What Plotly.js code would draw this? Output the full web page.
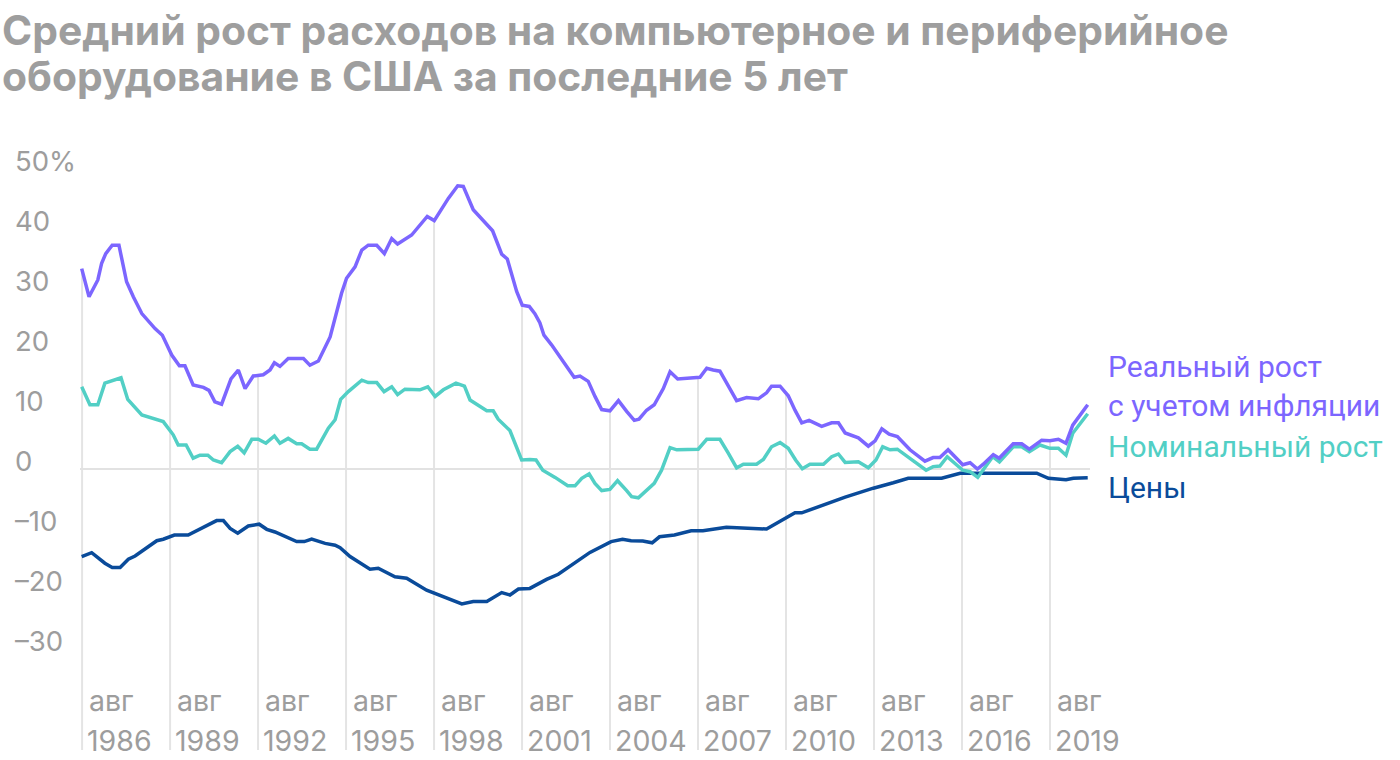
<!DOCTYPE html>
<html>
<head>
<meta charset="utf-8">
<script src="https://cdn.plot.ly/plotly-3.0.1.min.js"></script>
<style>html,body{margin:0;padding:0;background:#fff;}#chart{width:1400px;height:760px;}</style>
</head>
<body>
<div id="chart"></div>
<script>
// ---- Data (decimal years, % growth) ----
const realYears = [1986.57,1986.82,1987.12,1987.25,1987.39,1987.61,1987.84,1988.10,1988.33,1988.62,1989.07,1989.32,1989.64,1989.90,1990.09,1990.37,1990.72,1990.91,1991.11,1991.34,1991.66,1991.91,1992.14,1992.42,1992.76,1992.99,1993.14,1993.33,1993.61,1994.13,1994.35,1994.64,1995.04,1995.43,1995.60,1995.89,1996.12,1996.34,1996.63,1996.89,1997.14,1997.34,1997.82,1998.10,1998.35,1998.59,1999.07,1999.39,1999.58,1999.92,2000.26,2000.58,2000.89,2001.08,2001.40,2001.59,2001.83,2002.02,2002.19,2002.33,2002.59,2002.90,2003.36,2003.56,2003.84,2004.07,2004.30,2004.58,2004.87,2005.15,2005.41,2005.57,2005.83,2006.09,2006.40,2006.63,2006.89,2007.65,2007.88,2008.10,2008.33,2008.62,2008.90,2009.24,2009.64,2009.92,2010.09,2010.38,2010.66,2010.89,2011.12,2011.37,2011.80,2012.14,2012.37,2012.60,2013.05,2013.39,2013.62,2013.85,2014.10,2014.38,2014.81,2015.32,2015.60,2015.83,2016.11,2016.61,2016.86,2017.11,2017.31,2017.65,2017.85,2018.33,2018.62,2018.88,2019.30,2019.58,2019.87,2020.13,2020.36,2020.87];
const realVals = [33.4,28.7,31.5,34.3,35.9,37.3,37.3,31.2,28.7,25.9,23.4,22.3,19.0,17.2,17.2,14.0,13.6,13.1,11.2,10.8,15.0,16.5,13.4,15.5,15.7,16.5,17.7,17.1,18.4,18.4,17.3,18.0,22.0,29.3,31.8,33.7,36.5,37.3,37.3,35.9,38.4,37.5,39.0,40.7,42.1,41.4,45.1,47.2,47.1,43.2,41.5,39.7,35.8,35.0,29.6,27.3,27.1,25.9,24.4,22.3,20.7,18.6,15.3,15.5,14.6,12.1,9.9,9.7,11.4,9.6,8.1,8.3,9.8,10.7,13.4,16.2,15.0,15.3,16.8,16.5,16.3,13.8,11.4,11.9,11.7,12.7,13.8,13.8,12.2,9.8,7.7,8.1,7.1,7.7,7.7,6.0,5.2,3.8,4.7,6.7,5.8,5.4,3.2,1.3,1.9,1.9,3.2,0.7,1.05,0.0,0.8,2.4,1.8,4.2,4.2,3.3,4.8,4.7,4.95,4.3,7.3,10.7];

const nomYears = [1986.57,1986.85,1987.12,1987.36,1987.91,1988.14,1988.62,1989.35,1989.69,1989.86,1990.13,1990.37,1990.60,1990.87,1991.06,1991.34,1991.63,1991.89,1992.11,1992.37,1992.59,1992.85,1993.14,1993.33,1993.61,1993.90,1994.07,1994.35,1994.58,1994.98,1995.21,1995.40,1995.66,1996.12,1996.34,1996.63,1996.88,1997.14,1997.34,1997.59,1998.10,1998.37,1998.62,1998.90,1999.33,1999.62,1999.81,2000.38,2000.60,2000.77,2001.17,2001.57,2001.85,2002.06,2002.29,2002.71,2003.14,2003.39,2003.62,2003.87,2004.07,2004.30,2004.58,2004.84,2005.15,2005.32,2005.55,2005.83,2006.09,2006.34,2006.63,2006.86,2007.59,2007.88,2008.33,2008.62,2008.90,2009.13,2009.58,2009.81,2010.09,2010.38,2010.66,2010.91,2011.14,2011.40,2011.86,2012.14,2012.37,2012.60,2013.05,2013.39,2013.65,2013.88,2014.13,2014.38,2014.81,2015.36,2015.60,2015.83,2016.08,2016.61,2016.86,2017.12,2017.37,2017.63,2017.86,2018.33,2018.62,2018.88,2019.24,2019.58,2019.87,2020.13,2020.36,2020.87];
const nomVals = [13.7,10.7,10.7,14.3,15.2,11.6,9.0,7.9,5.7,4.0,4.0,1.8,2.3,2.3,1.5,1.05,2.9,3.8,2.7,4.95,4.95,4.3,5.5,4.3,5.1,4.2,4.2,3.3,3.3,6.8,8.2,11.6,12.9,14.8,14.4,14.4,12.9,13.7,12.4,13.3,13.2,13.7,12.1,13.2,14.3,13.8,11.5,9.7,9.7,8.3,6.4,1.5,1.6,1.5,-0.2,-1.4,-2.8,-2.8,-1.55,-0.8,-2.4,-3.6,-3.4,-1.95,-3.6,-4.6,-4.8,-3.5,-2.4,-0.2,3.55,3.2,3.3,4.95,4.95,2.6,0.2,0.8,0.8,1.6,3.7,4.4,3.45,1.5,0.05,0.8,0.8,2.05,2.5,1.1,1.2,0.2,1.5,3.7,3.2,3.3,1.8,-0.2,0.4,0.5,2.05,-0.2,-0.45,-1.4,0.3,2.05,1.2,3.7,3.7,2.9,4.0,3.45,3.45,2.3,5.95,9.2];

const priceYears = [1986.57,1986.91,1987.36,1987.61,1987.88,1988.16,1988.39,1989.13,1989.35,1989.73,1990.20,1990.66,1991.17,1991.40,1991.63,1991.89,1992.25,1992.62,1992.88,1993.16,1993.90,1994.16,1994.41,1994.87,1995.21,1995.38,1995.72,1996.40,1996.68,1997.25,1997.65,1998.33,1999.53,1999.92,2000.38,2000.89,2001.17,2001.46,2001.85,2002.42,2002.82,2003.90,2004.62,2005.01,2005.30,2005.70,2006.02,2006.27,2006.78,2007.35,2007.75,2008.55,2009.92,2010.89,2011.12,2012.60,2012.99,2013.56,2014.24,2014.75,2015.89,2016.52,2019.13,2019.53,2020.13,2020.38,2020.87];
const priceVals = [-14.6,-13.95,-15.7,-16.4,-16.4,-15.05,-14.5,-11.95,-11.7,-11.0,-11.0,-9.9,-8.6,-8.6,-9.9,-10.7,-9.5,-9.2,-10.05,-10.5,-12.1,-12.1,-11.7,-12.4,-12.7,-13.1,-14.6,-16.7,-16.55,-17.95,-18.2,-20.2,-22.5,-22.1,-22.1,-20.6,-21.0,-20.0,-19.9,-18.4,-17.55,-13.9,-12.1,-11.7,-11.95,-12.0,-12.3,-11.3,-11.0,-10.3,-10.3,-9.7,-10.0,-7.3,-7.3,-4.7,-4.05,-3.2,-2.3,-1.55,-1.55,-0.7,-0.7,-1.55,-1.8,-1.55,-1.45];

const tickYearsX = [1986,1989,1992,1995,1998,2001,2004,2007,2010,2013,2016,2019];
const tickMonthLabel = "авг";
const yTickVals = [50,40,30,20,10,0,-10,-20,-30];
const yTickText = ["50%","40","30","20","10","0","–10","–20","–30"];

const seriesNames = ["Реальный рост<br>с учетом инфляции","Номинальный рост","Цены"];
const colors = {real:"#7c66ff", nom:"#52cfc5", price:"#0a4b9a"};

// ---- Layout geometry ----
const W=1400,H=760, L=80, R=310, T=139, B=10;
const plotH = H-T-B;
const yMax = 55, yMin = yMax - plotH/6;
const xMin = 1986.512, xMax = 2020.948;
const augOffset = 7/12;
const py = p => (H - B - p)/plotH;   // pixel y -> paper y

function interp(xs, ys, x){
  for(let i=0;i<xs.length-1;i++){
    if(x>=xs[i] && x<=xs[i+1]){ const t=(x-xs[i])/(xs[i+1]-xs[i]); return ys[i]+t*(ys[i+1]-ys[i]); }
  }
  return x<xs[0]?ys[0]:ys[ys.length-1];
}

const shapes = tickYearsX.map(yr=>{
  const x = yr+augOffset;
  const top = Math.max(interp(realYears,realVals,x), interp(nomYears,nomVals,x), interp(priceYears,priceVals,x));
  return {type:'line', xref:'x', yref:'y', x0:x, x1:x, y0:yMin, y1:top, layer:'below', line:{color:'#e4e4e4', width:2}};
});

const gray = '#9d9d9d';
const font = 'Inter, Roboto, "Noto Sans", Arial, sans-serif';
const annotations = [];
tickYearsX.forEach(yr=>{
  annotations.push({x:yr+augOffset, xref:'x', y:py(700), yref:'paper', text:tickMonthLabel, showarrow:false, xanchor:'left', yanchor:'middle', xshift:5, font:{family:font,size:28.5,color:gray}});
  annotations.push({x:yr+augOffset, xref:'x', y:py(740), yref:'paper', text:String(yr), showarrow:false, xanchor:'left', yanchor:'middle', xshift:3, font:{family:font,size:28.5,color:gray}});
});
yTickVals.forEach((v,i)=>{
  annotations.push({x:(13-L)/(W-L-R), xref:'paper', y:v, yref:'y', yshift:8, text:yTickText[i], showarrow:false, xanchor:'left', yanchor:'middle', font:{family:font,size:27.5,color:gray}});
});
// series labels
const lx = (1106-L)/(W-L-R);
const lfont = 'Roboto, "Noto Sans", Arial, sans-serif';
annotations.push({x:lx, xref:'paper', y:py(386), yref:'paper', text:seriesNames[0], showarrow:false, xanchor:'left', yanchor:'middle', align:'left', font:{family:lfont,size:30,color:colors.real}});
annotations.push({x:lx, xref:'paper', y:py(446), yref:'paper', text:seriesNames[1], showarrow:false, xanchor:'left', yanchor:'middle', align:'left', font:{family:lfont,size:30,color:colors.nom}});
annotations.push({x:lx, xref:'paper', y:py(487), yref:'paper', text:seriesNames[2], showarrow:false, xanchor:'left', yanchor:'middle', align:'left', font:{family:lfont,size:30,color:colors.price}});
// title lines
const titleLines = ["Средний рост расходов на компьютерное и периферийное","оборудование в США за последние 5 лет"];
annotations.push({x:(0-L)/(W-L-R), xref:'paper', y:py(30), yref:'paper', text:'<b>'+titleLines[0]+'</b>', showarrow:false, xanchor:'left', yanchor:'middle', font:{family:font,size:40.8,color:'#9e9e9e'}});
annotations.push({x:(0-L)/(W-L-R), xref:'paper', y:py(76), yref:'paper', text:'<b>'+titleLines[1]+'</b>', showarrow:false, xanchor:'left', yanchor:'middle', font:{family:font,size:40.8,color:'#9e9e9e'}});

const traces = [
  {x:priceYears, y:priceVals, type:'scatter', mode:'lines', line:{color:colors.price, width:3.5}, hoverinfo:'skip'},
  {x:nomYears, y:nomVals, type:'scatter', mode:'lines', line:{color:colors.nom, width:3.5}, hoverinfo:'skip'},
  {x:realYears, y:realVals, type:'scatter', mode:'lines', line:{color:colors.real, width:3.5}, hoverinfo:'skip'}
];

const layout = {
  width:W, height:H,
  margin:{l:L, r:R, t:T, b:B, autoexpand:false},
  paper_bgcolor:'#fff', plot_bgcolor:'#fff',
  showlegend:false,
  xaxis:{range:[xMin,xMax], showgrid:false, zeroline:false, showticklabels:false, showline:false, ticks:'', fixedrange:true},
  yaxis:{range:[yMin,yMax], showgrid:false, zeroline:true, zerolinecolor:'#e2e2e2', zerolinewidth:2, showticklabels:false, showline:false, ticks:'', fixedrange:true},
  shapes:shapes,
  annotations:annotations,
  font:{family:font}
};

Plotly.newPlot('chart', traces, layout, {staticPlot:true, displayModeBar:false});
</script>
</body>
</html>
